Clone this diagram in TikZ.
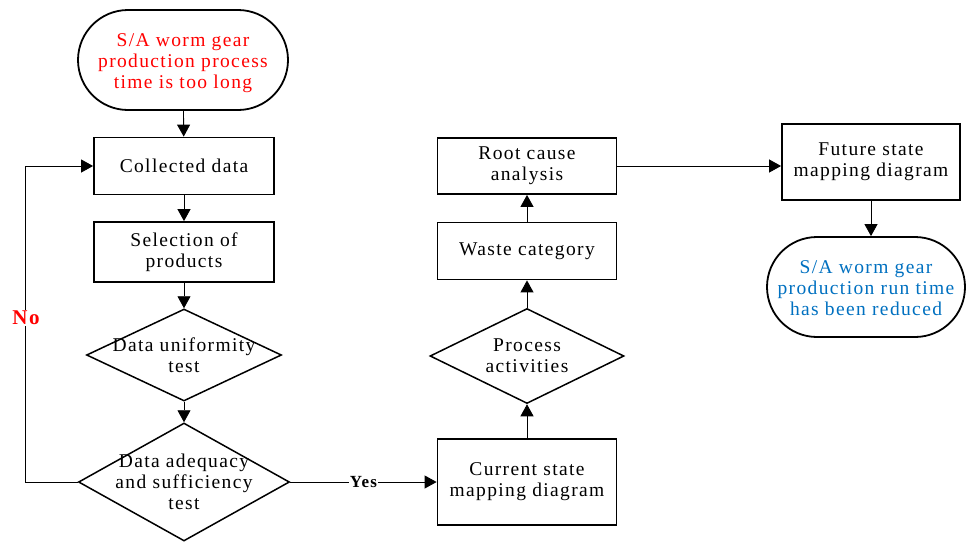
\documentclass[tikz,border=0pt]{standalone}
\usepackage{fontspec}
\setmainfont[LetterSpace=7]{Liberation Serif}
\usetikzlibrary{shapes.geometric,shapes.misc,arrows.meta}
\definecolor{endblue}{RGB}{0,112,192}
\begin{document}
\begin{tikzpicture}[x=1pt,y=-1pt,
  every node/.style={font=\fontsize{19.5}{21}\selectfont, align=center, inner sep=0pt},
  box/.style={draw, line width=1.8pt, rectangle, minimum width=180pt},
  term/.style={draw, line width=1.8pt, rounded rectangle, rounded rectangle arc length=180},
  dec/.style={draw, line width=1.5pt, diamond, inner sep=0pt},
  conn/.style={line width=0.9pt, -{Triangle[length=12pt,width=13pt]}},
  lbl/.style={fill=white, font=\fontsize{17}{18}\selectfont\bfseries, inner sep=1pt}]
\useasboundingbox (0,0) rectangle (966,542);
\node[term, minimum width=210pt, minimum height=100pt, label={[text=red, yshift=-3pt]center:{S/A worm gear\\production process\\time is too long}}] (start) at (183,60) {};
\node[box, minimum height=57pt] (collect) at (184,166) {Collected data};
\node[box, minimum height=60pt] (select) at (184,252) {Selection of\\products};
\node[dec, minimum width=195pt, minimum height=92pt, label=center:{Data uniformity\\test}] (uni) at (184,355) {};
\node[dec, minimum width=211pt, minimum height=118pt, label=center:{Data adequacy\\and sufficiency\\test}] (adeq) at (184,482) {};
\node[box, minimum width=179pt, minimum height=86pt] (cur) at (527,482) {Current state\\mapping diagram};
\node[dec, minimum width=194pt, minimum height=95pt, label=center:{Process\\activities}] (proc) at (527,356) {};
\node[box, minimum width=179pt, minimum height=57pt] (waste) at (527,251) {Waste category};
\node[box, minimum width=179pt, minimum height=56pt] (root) at (527,166) {Root cause\\analysis};
\node[box, minimum width=178pt, minimum height=76pt] (fut) at (871,162) {Future state\\mapping diagram};
\node[term, minimum width=198pt, minimum height=100pt, label={[text=endblue, yshift=-1pt]center:{S/A worm gear\\production run time\\has been reduced}}] (end) at (866,287) {};
\coordinate (nb) at (25,482);
\coordinate (nt) at (25,166);
\draw[conn] (start) -- (collect);
\draw[conn] (collect) -- (select);
\draw[conn] (select) -- (uni);
\draw[conn] (uni) -- (adeq);
\draw[conn] (adeq.west) -- (nb) -- (nt) -- (collect.west);
\node[lbl, text=red, font=\fontsize{21}{22}\selectfont\bfseries] (no) at (26,318) {No};
\draw[conn] (adeq.east) -- (cur.west) node[lbl, pos=0.5] (yes) {Yes};
\draw[conn] (cur) -- (proc);
\draw[conn] (proc) -- (waste);
\draw[conn] (waste) -- (root);
\draw[conn] (root.east) -- (root.east -| fut.west);
\draw[conn] (fut.south) -- (fut.south |- end.north);
\end{tikzpicture}
\end{document}
